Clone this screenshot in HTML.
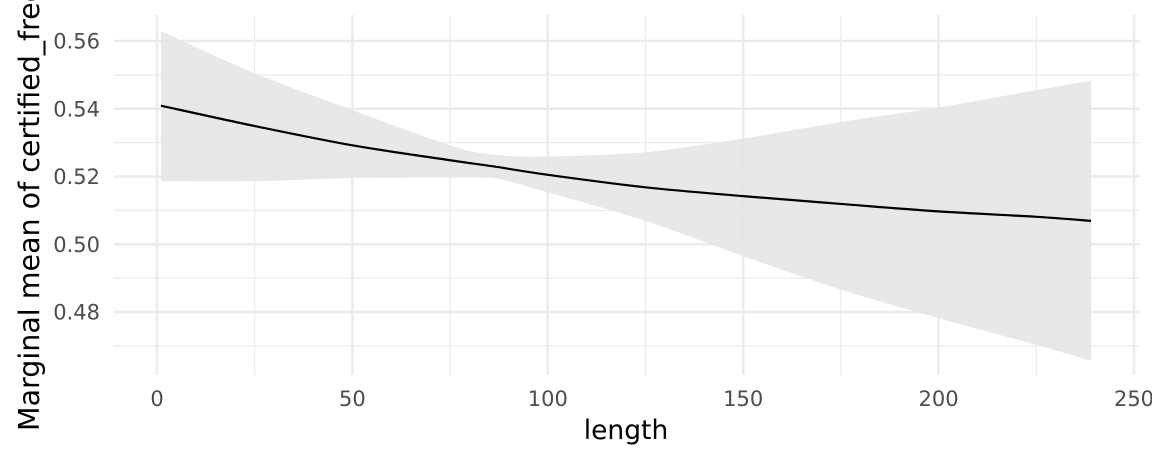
<!DOCTYPE html>
<html><head><meta charset="utf-8"><style>
html,body{margin:0;padding:0;background:#fff;}
svg{display:block;font-family:"DejaVu Sans",sans-serif;}
</style></head><body>
<svg id="chart" width="1152" height="460" viewBox="0 0 1152 460">
<g id="grid"></g>
<path id="band" fill="#e6e6e6" fill-opacity="0.9"></path>
<path id="line" fill="none" stroke="#000" stroke-width="2.2"></path>
<g id="xticks"></g>
<g id="yticks"></g>
<text x="626" y="439" font-size="26.5" text-anchor="middle" fill="#000">length</text>
<text transform="translate(39,431) rotate(-90)" font-size="28.5" fill="#000">Marginal mean of certified_freq</text>
</svg>
<script>
const xs = [1, 25, 50, 75, 86, 100, 125, 150, 175, 200, 225, 239];
const fit = [0.5409, 0.5349, 0.5292, 0.5248, 0.5230, 0.5205, 0.5168, 0.5142, 0.5119, 0.5097, 0.5081, 0.5069];
const upper = [0.5629, 0.5505, 0.5396, 0.5292, 0.5265, 0.5259, 0.5272, 0.5312, 0.5361, 0.5404, 0.5455, 0.5483];
const lower = [0.5186, 0.5186, 0.5196, 0.5201, 0.5196, 0.5153, 0.5069, 0.4965, 0.4866, 0.4782, 0.4703, 0.4656];
const xTicks = [0, 50, 100, 150, 200, 250];
const xMinor = [25, 75, 125, 175, 225];
const yTicks = [0.48, 0.50, 0.52, 0.54, 0.56];
const yMinor = [0.47, 0.49, 0.51, 0.53, 0.55];

const X = v => 157 + v * 3.908;
const Y = v => 41 + (0.56 - v) * 3387.5;
const NS = "http://www.w3.org/2000/svg";
const PL = 114, PR = 1140, PT = 15, PB = 375;

function ln(g, x1, y1, x2, y2, w, name) {
  const l = document.createElementNS(NS, "line");
  l.setAttribute("x1", x1); l.setAttribute("y1", y1);
  l.setAttribute("x2", x2); l.setAttribute("y2", y2);
  l.setAttribute("stroke", "#ebebeb"); l.setAttribute("stroke-width", w);
  
  
  g.appendChild(l);
}
const grid = document.getElementById("grid");
yMinor.forEach(v => ln(grid, PL, Y(v), PR, Y(v), 1.2, "y-minor-gridline"));
xMinor.forEach(v => ln(grid, X(v), PT, X(v), PB, 1.2, "x-minor-gridline"));
yTicks.forEach(v => ln(grid, PL, Y(v), PR, Y(v), 2.4, "y-major-gridline"));
xTicks.forEach(v => ln(grid, X(v), PT, X(v), PB, 2.4, "x-major-gridline"));

function txt(g, x, y, s, anchor, name) {
  const t = document.createElementNS(NS, "text");
  t.setAttribute("x", x); t.setAttribute("y", y);
  t.setAttribute("font-size", "21"); t.setAttribute("fill", "#4d4d4d");
  t.setAttribute("text-anchor", anchor);
  t.textContent = s;
  
  
  g.appendChild(t);
}
const xt = document.getElementById("xticks");
xTicks.forEach(v => txt(xt, X(v), 406, String(v), "middle", "x-tick-label"));
const yt = document.getElementById("yticks");
yTicks.forEach(v => txt(yt, 100, Y(v) + 7.5, v.toFixed(2), "end", "y-tick-label"));

function smooth(px) {
  let s = "M" + px[0][0] + "," + px[0][1];
  for (let i = 0; i < px.length - 1; i++) {
    const p0 = px[i - 1] || px[i], p1 = px[i], p2 = px[i + 1], p3 = px[i + 2] || p2;
    const c1 = [p1[0] + (p2[0] - p0[0]) / 6, p1[1] + (p2[1] - p0[1]) / 6];
    const c2 = [p2[0] - (p3[0] - p1[0]) / 6, p2[1] - (p3[1] - p1[1]) / 6];
    s += "C" + c1[0] + "," + c1[1] + " " + c2[0] + "," + c2[1] + " " + p2[0] + "," + p2[1];
  }
  return s;
}
const upPts = xs.map((x, i) => [X(x), Y(upper[i])]);
const loPts = xs.map((x, i) => [X(x), Y(lower[i])]).reverse();
const loPath = smooth(loPts).replace(/^M/, "L");
document.getElementById("band").setAttribute("d", smooth(upPts) + loPath + "Z");
document.getElementById("line").setAttribute("d", smooth(xs.map((x, i) => [X(x), Y(fit[i])])));
</script>
</body></html>
